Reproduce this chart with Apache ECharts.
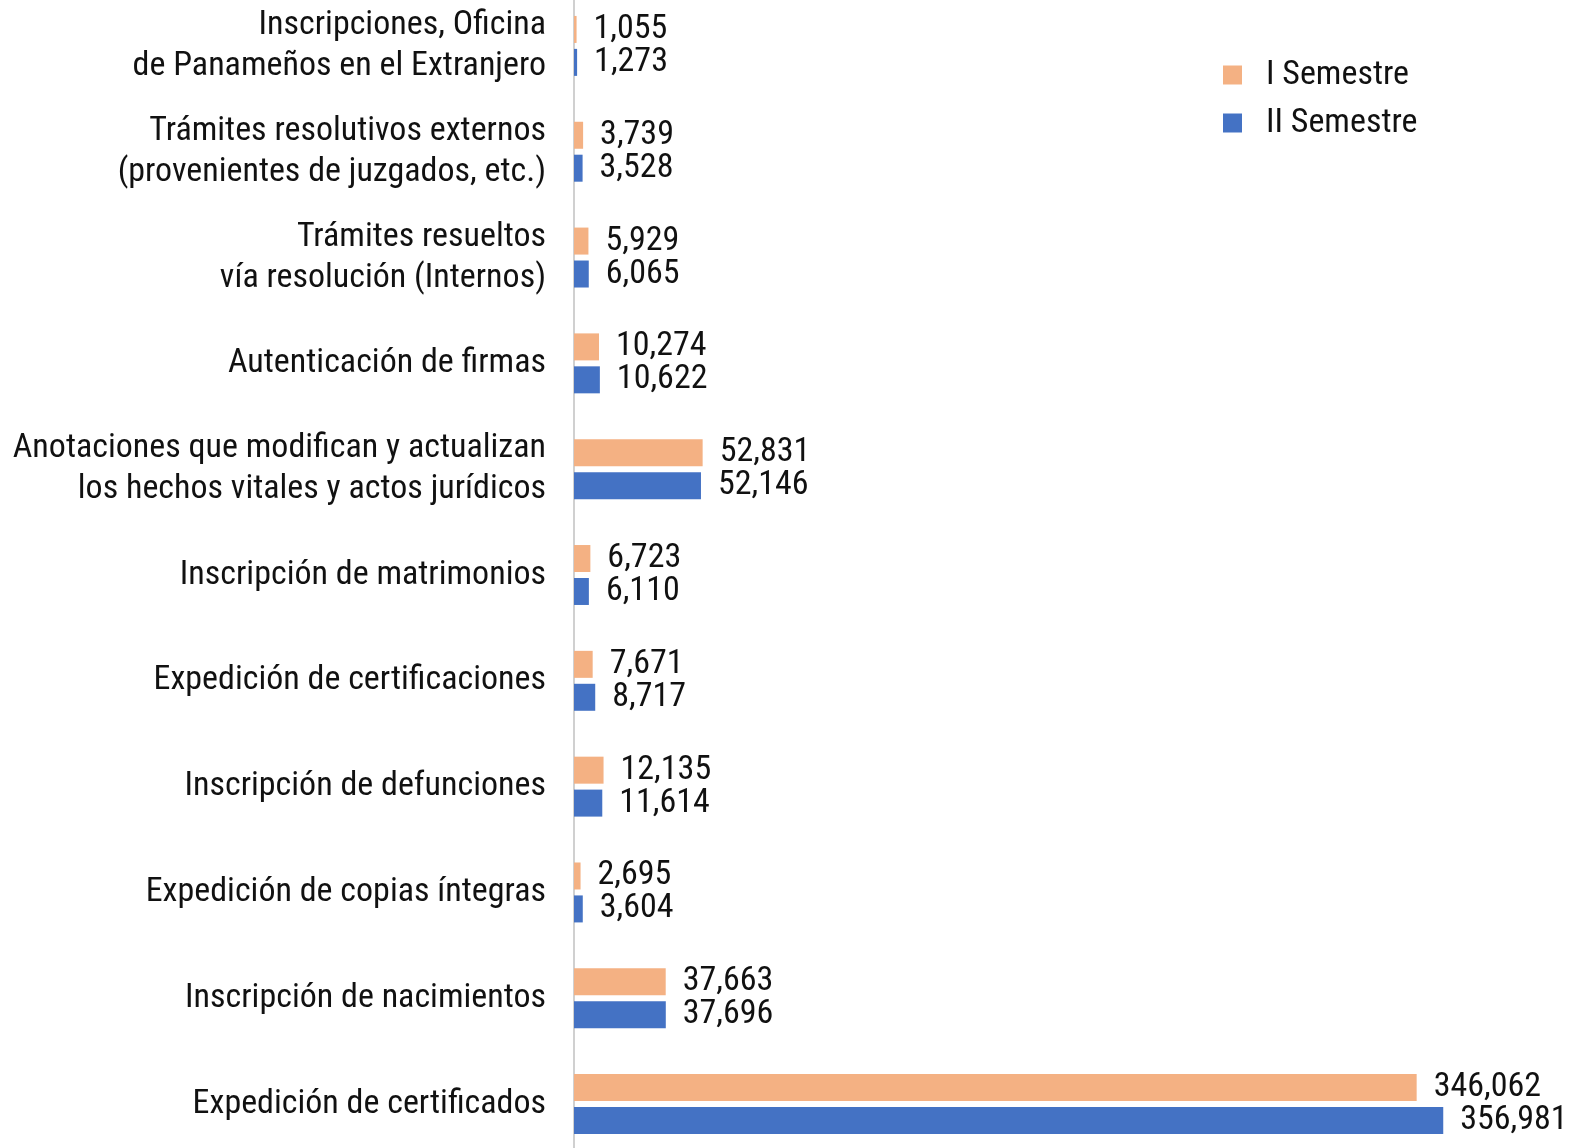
<!DOCTYPE html>
<html>
<head>
<meta charset="utf-8">
<script src="https://cdn.jsdelivr.net/npm/echarts@6/dist/echarts.min.js"></script>
<style>
html, body { margin: 0; padding: 0; background: #fff; }
#chart { width: 1588px; height: 1148px; }
</style>
</head>
<body>
<div id="chart"></div>
<script>
// categorias (de arriba hacia abajo)
var categorias = [
    'Inscripciones, Oficina\nde Panameños en el Extranjero',
    'Trámites resolutivos externos\n(provenientes de juzgados, etc.)',
    'Trámites resueltos\nvía resolución (Internos)',
    'Autenticación de firmas',
    'Anotaciones que modifican y actualizan\nlos hechos vitales y actos jurídicos',
    'Inscripción de matrimonios',
    'Expedición de certificaciones',
    'Inscripción de defunciones',
    'Expedición de copias íntegras',
    'Inscripción de nacimientos',
    'Expedición de certificados'
];
var semestre1 = [1055, 3739, 5929, 10274, 52831, 6723, 7671, 12135, 2695, 37663, 346062];
var semestre2 = [1273, 3528, 6065, 10622, 52146, 6110, 8717, 11614, 3604, 37696, 356981];
var nombres = ['I Semestre', 'II Semestre'];

var fuente = '"Roboto Condensed", "Roboto", sans-serif';
var chart = echarts.init(document.getElementById('chart'));

function etiqueta() {
    return {
        show: true,
        position: 'right',
        distance: 17,
        fontFamily: fuente,
        fontSize: 34,
        color: '#111',
        formatter: function (p) { return p.value.toLocaleString('en-US'); }
    };
}

var option = {
    animation: false,
    textStyle: { fontFamily: fuente },
    legend: {
        data: nombres,
        orient: 'vertical',
        left: 1218,
        top: 53,
        itemWidth: 19,
        itemHeight: 19,
        itemGap: 14,
        icon: 'rect',
        textStyle: { fontFamily: fuente, fontSize: 34, color: '#111', padding: [0, 0, 0, 19] }
    },
    grid: {
        left: 574,
        top: -7,
        width: 974,
        height: 1164,
        outerBoundsMode: 'none'
    },
    xAxis: {
        type: 'value',
        min: 0,
        max: 400000,
        show: false
    },
    yAxis: {
        type: 'category',
        inverse: true,
        data: categorias,
        axisLine: { lineStyle: { color: '#d0d0d0', width: 2 } },
        axisTick: { show: false },
        axisLabel: {
            fontFamily: fuente,
            fontSize: 34,
            color: '#111',
            lineHeight: 41,
            align: 'right',
            margin: 28
        }
    },
    series: [
        {
            name: nombres[0],
            type: 'bar',
            data: semestre1,
            barWidth: 27,
            barGap: '22%',
            itemStyle: { color: '#F4B183' },
            label: etiqueta()
        },
        {
            name: nombres[1],
            type: 'bar',
            data: semestre2,
            barWidth: 27,
            itemStyle: { color: '#4472C4' },
            label: etiqueta()
        }
    ]
};

chart.setOption(option);
</script>
</body>
</html>
